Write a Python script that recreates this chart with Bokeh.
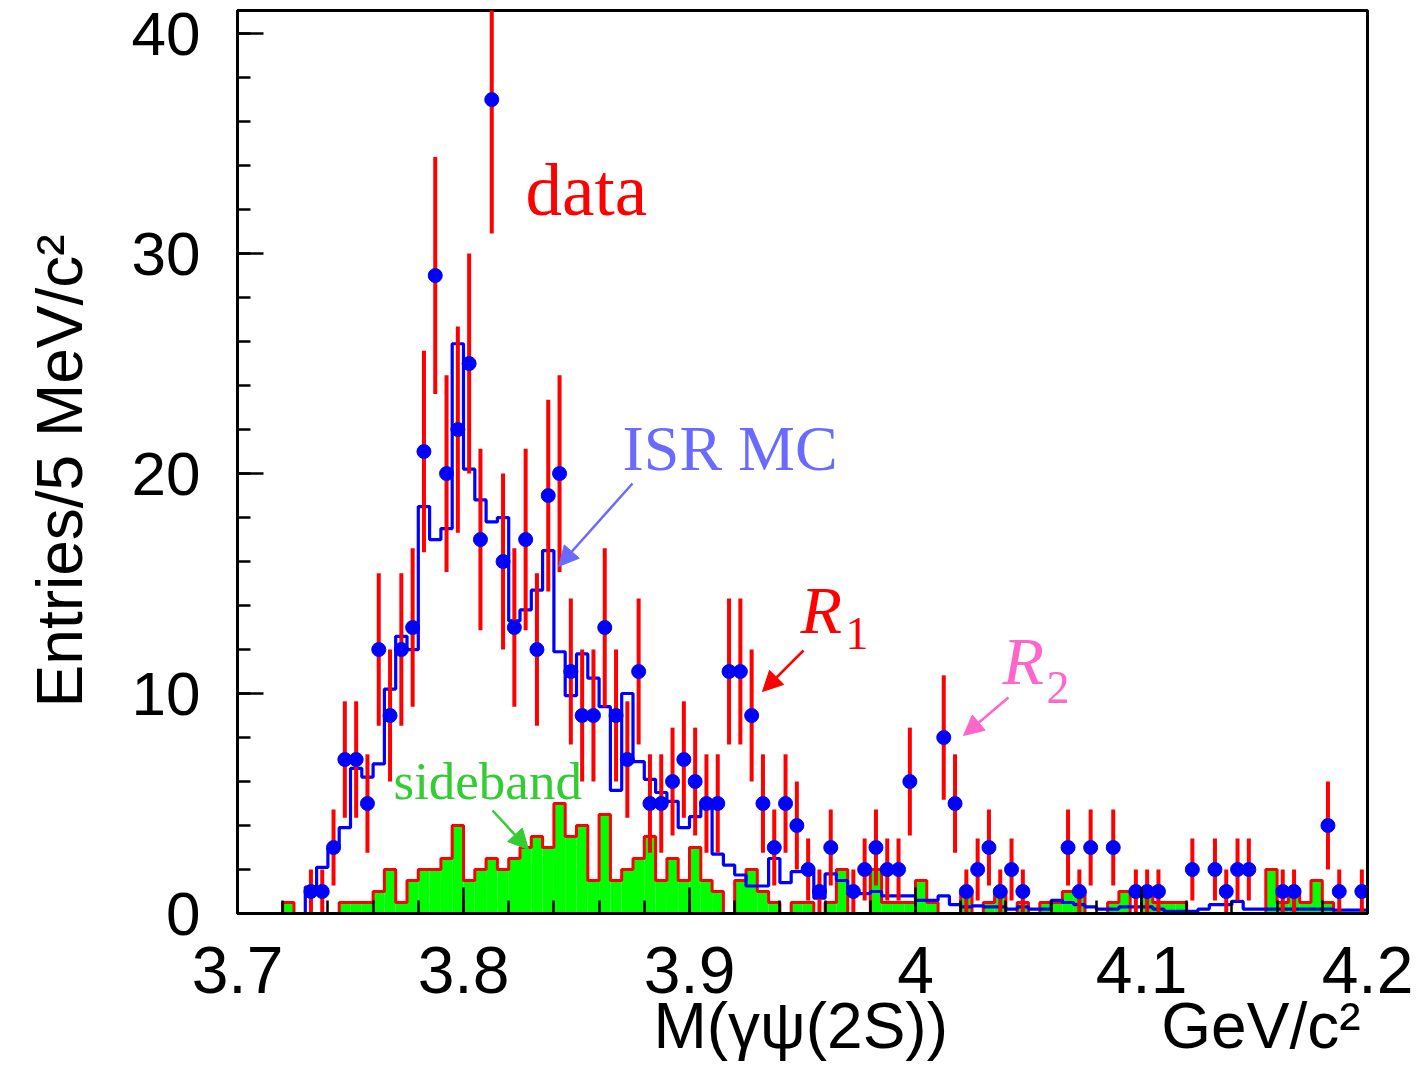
import numpy as np
from bokeh.plotting import figure
from bokeh.models import Label, Arrow, NormalHead, FixedTicker, CustomJSTickFormatter
from bokeh.embed import file_html
from bokeh.resources import INLINE

# ---------------- data (100 bins of 5 MeV from 3.70 to 4.20 GeV) ----------------
x_lo, x_hi, n_bins = 3.7, 4.2, 100

data_counts = [0, 0, 0, 0, 0, 0, 1, 1, 3, 7,
               7, 5, 12, 9, 12, 13, 21, 29, 20, 22,
               25, 17, 37, 16, 13, 17, 12, 19, 20, 11,
               9, 9, 13, 9, 7, 11, 5, 5, 6, 7,
               6, 5, 5, 11, 11, 9, 5, 3, 5, 4,
               2, 1, 3, 0, 1, 2, 3, 2, 2, 6,
               0, 0, 8, 5, 1, 2, 3, 1, 2, 1,
               0, 0, 0, 3, 1, 3, 0, 3, 0, 1,
               1, 1, 0, 0, 2, 0, 2, 1, 2, 2,
               0, 0, 1, 1, 0, 0, 4, 1, 0, 1]

isr_mc = [0, 0, 0, 0, 0, 0, 1.2, 2.1, 3.0, 3.9,
          6.6, 6.2, 6.8, 10.2, 12.6, 12.0, 18.5, 17.0, 17.5, 25.9,
          20.2, 18.8, 17.8, 18.0, 13.3, 13.8, 14.7, 16.5, 11.9, 9.9,
          11.8, 10.7, 9.4, 5.6, 10.0, 6.9, 6.1, 5.5, 5.1, 3.9,
          4.4, 5.0, 2.7, 2.2, 1.75, 1.25, 1.25, 2.5, 1.4, 1.9,
          1.9, 0.7, 1.8, 1.5, 0.9, 0.9, 1.0, 0.8, 0.8, 0.8,
          0.6, 0.6, 0.8, 0.4, 0.3, 0.35, 0.3, 0.3, 0.2, 0.3,
          0.2, 0.2, 0.6, 0.5, 0.4, 0.3, 0.2, 0.2, 0.3, 0.3,
          0.3, 0.2, 0.1, 0.1, 0.1, 0.2, 0.4, 0.4, 0.55, 0.2,
          0.2, 0.2, 0.2, 0.2, 0.2, 0.2, 0.2, 0.15, 0.15, 0.15]

sideband = [0, 0, 0, 0, 0.5, 0, 0, 0, 0, 0.5,
            0.5, 0.5, 1, 2, 0.5, 1.5, 2, 2, 2.5, 4,
            1.5, 2, 2.5, 2, 2.5, 3, 3.5, 3, 5, 3.5,
            4, 1.5, 4.5, 1.5, 2, 2.5, 3.5, 1.5, 2.5, 1.5,
            3, 1.5, 1, 0, 1.5, 2, 1, 0.5, 0, 0.5,
            0.5, 0, 0.5, 2, 0, 0, 2, 0.5, 0.5, 0.5,
            1.5, 0.5, 0, 0, 1, 0, 0.5, 1, 0, 0.5,
            0, 0.5, 0.5, 1, 1, 0, 0, 0.5, 1, 0,
            1, 0.5, 0.5, 0.5, 0, 0, 0, 0, 0, 0,
            0, 2, 0.5, 1, 0.5, 1.5, 0.5, 0, 0, 0]

x_ticks = [3.7, 3.8, 3.9, 4.0, 4.1, 4.2]
y_ticks = [0, 10, 20, 30, 40]
x_title_main = "M(γψ(2S))"
x_title_unit = "GeV/c²"
y_title = "Entries/5 MeV/c²"

# ---------------- layout ----------------
W, H = 1421, 1069
FL, FR, FT, FB = 237, 1367, 10, 913
YMAX = 41.05


def px2x(px):
    return x_lo + (px - FL) * (x_hi - x_lo) / (FR - FL)


def py2y(py):
    return (FB - py) * YMAX / (FB - FT)


edges = np.linspace(x_lo, x_hi, n_bins + 1)
centers = 0.5 * (edges[:-1] + edges[1:])
counts = np.array(data_counts, dtype=float)
mc = np.array(isr_mc, dtype=float)
sb = np.array(sideband, dtype=float)

p = figure(width=W, height=H, x_range=(x_lo, x_hi), y_range=(0, YMAX),
           output_backend="svg", toolbar_location=None, title=None,
           min_border_left=FL, min_border_right=W - FR,
           min_border_top=FT, min_border_bottom=H - FB)
p.background_fill_color = "white"
p.border_fill_color = "white"
p.xgrid.visible = False
p.ygrid.visible = False
p.outline_line_color = "black"
p.outline_line_width = 3

# sideband: green filled histogram with red outline
p.quad(left=edges[:-1], right=edges[1:], bottom=0, top=sb,
       fill_color="#00ff00", line_color=None)
p.step(x=edges, y=np.append(sb, sb[-1]), mode="after",
       line_color="#ff0000", line_width=3)

# ISR MC: blue step histogram
p.step(x=edges, y=np.append(mc, mc[-1]), mode="after",
       line_color="#0000ff", line_width=3.2)

# data: red error bars + blue dots
nz = counts > 0
err = np.sqrt(counts[nz])
p.segment(x0=centers[nz], y0=counts[nz] - err, x1=centers[nz], y1=counts[nz] + err,
          line_color="#ff0000", line_width=4)
p.scatter(x=centers[nz], y=counts[nz], size=14, fill_color="#0000ff",
          line_color="#0000ff")

# ---------------- axes ----------------
sans = "Liberation Sans"
serif = "Liberation Serif"
for ax in (p.xaxis[0], p.yaxis[0]):
    ax.axis_line_width = 3
    ax.major_tick_line_width = 2.5
    ax.minor_tick_line_width = 2.5
    ax.major_tick_in = 26
    ax.major_tick_out = 0
    ax.minor_tick_in = 13
    ax.minor_tick_out = 0
    ax.major_label_text_font = sans
    ax.major_label_text_color = "black"
    ax.major_label_text_line_height = 1.0
    ax.axis_label_text_font = sans
    ax.axis_label_text_font_style = "normal"
    ax.axis_label_text_font_size = "64px"
    ax.axis_label_text_color = "black"

p.xaxis.major_label_text_font_size = "66px"
p.yaxis.major_label_text_font_size = "62px"

p.xaxis.ticker = FixedTicker(ticks=x_ticks,
                             minor_ticks=[round(x_lo + 0.02 * i, 3) for i in range(26)])
p.xaxis.formatter = CustomJSTickFormatter(code="return String(Math.round(tick*10)/10);")
p.xaxis.major_label_standoff = 33
p.yaxis.ticker = FixedTicker(ticks=y_ticks, minor_ticks=list(range(0, 42, 2)))
p.yaxis.major_label_standoff = 37

NB = "\u00a0"
# ROOT-style titles: x title split into the quantity (centred) and the unit (right end)
p.xaxis.axis_label = NB * 23 + x_title_main + NB * 12 + x_title_unit
p.xaxis.axis_label_standoff = -6
p.yaxis.axis_label = y_title + NB
p.yaxis.axis_label_standoff = 33

# ---------------- annotations ----------------
def lab(px, py, text, color, size, font=serif, style="normal"):
    p.add_layout(Label(x=px2x(px), y=py2y(py), text=text, text_font=font,
                       text_font_size=f"{size}px", text_color=color, text_font_style=style,
                       text_align="left", text_baseline="alphabetic"))


def arrow(x0, y0, x1, y1, color):
    p.add_layout(Arrow(x_start=px2x(x0), y_start=py2y(y0), x_end=px2x(x1), y_end=py2y(y1),
                       line_color=color, line_width=2.5,
                       end=NormalHead(size=20, fill_color=color, line_color=color, line_width=1)))


lab(525, 190, "data", "#ff0000", 73)
lab(622, 448, "ISR MC", "#6a6aff", 64)
lab(800, 609, "R", "#ff0000", 68, style="italic")
lab(845, 633, "1", "#ff0000", 46)
lab(1002, 660, "R", "#ff66cc", 68, style="italic")
lab(1046, 687, "2", "#ff66cc", 46)
lab(393, 780, "sideband", "#33cc33", 53)

arrow(632, 483, 558, 566, "#6a6aff")
arrow(803, 650, 762, 691, "#ff0000")
arrow(1008, 697, 963, 735, "#ff66cc")
arrow(492, 810, 528, 849, "#33cc33")

open("out.html", "w").write(file_html(p, INLINE))
